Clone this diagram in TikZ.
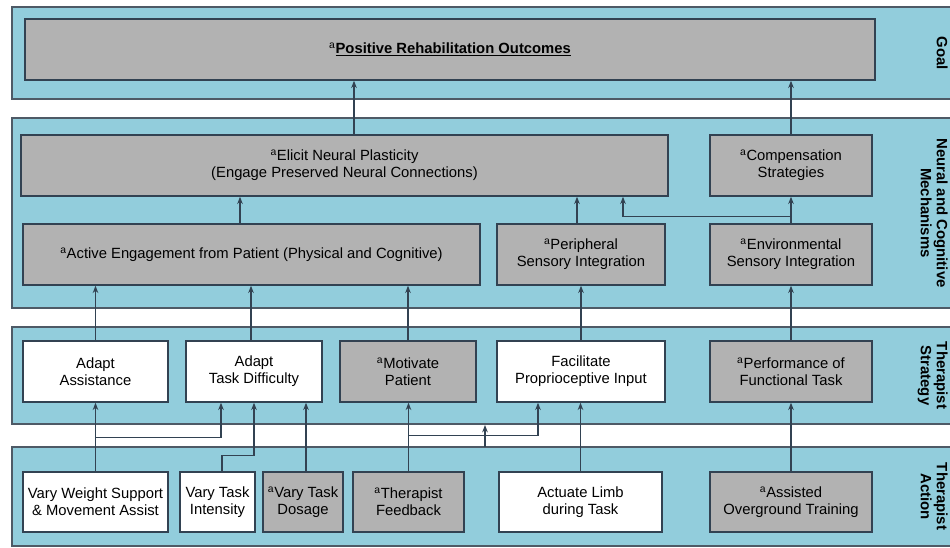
\documentclass[tikz,border=0pt]{standalone}
\usepackage{fontspec}
\setmainfont{Liberation Sans}
\usetikzlibrary{arrows.meta}

\definecolor{bandblue}{RGB}{146,205,220}
\definecolor{boxgray}{RGB}{178,178,178}
\definecolor{edgedark}{RGB}{50,66,82}
\definecolor{bandedge}{RGB}{78,90,102}

\newcommand\boxfont{\fontsize{11.1}{12.75}\selectfont}
\newcommand\sidefont{\fontsize{11.2}{12}\selectfont\bfseries}
\newcommand\ap{\textsuperscript{a}}

\tikzset{
    band/.style={draw=bandedge, line width=1.1pt, fill=bandblue},
    graybox/.style={draw=edgedark, line width=1.1pt, fill=boxgray, align=center, inner sep=0pt, font=\boxfont},
    whitebox/.style={graybox, fill=white},
    wh/.style 2 args={minimum width=#1*0.75pt, minimum height=#2*0.75pt},
    arr/.style={-{Stealth[length=5.5pt,width=4.2pt]}, line width=1pt, draw=edgedark},
    side/.style={rotate=-90, anchor=north, align=center, inner sep=0pt, font=\sidefont},
}

\begin{document}
\begin{tikzpicture}[x=0.75pt, y=-0.75pt]

\path[use as bounding box, fill=white] (0,0) rectangle (950,548);

% layers
\draw[band] (12,7) rectangle (960,99);
\draw[band] (12,118) rectangle (960,308);
\draw[band] (12,327) rectangle (960,424);
\draw[band] (12,447) rectangle (960,546);

\node[side] (lgoal) at (948,53) {Goal};
\node[side] (lneur) at (948,213) {Neural and Cognitive\\Mechanisms};
\node[side] (lstrat) at (948,375.5) {Therapist\\Strategy};
\node[side] (lact) at (948,496.5) {Therapist\\Action};

% goal
\node[graybox, wh={850}{61}] (goal) at (450,49.5) {\ap\underline{\textbf{Positive Rehabilitation Outcomes}}};

% mechanisms
\node[graybox, wh={647}{61}] (elicit) at (344.5,165.5) {\ap Elicit Neural Plasticity\\(Engage Preserved Neural Connections)};
\node[graybox, wh={162}{61}] (comp) at (791,165.5) {\ap Compensation\\Strategies};
\node[graybox, wh={457}{61}] (active) at (251.5,254.5) {\ap Active Engagement from Patient (Physical and Cognitive)};
\node[graybox, wh={168}{61}] (periph) at (581,254.5) {\ap Peripheral\\Sensory Integration};
\node[graybox, wh={162}{61}] (env) at (791,254.5) {\ap Environmental\\Sensory Integration};

% strategy
\node[whitebox, wh={145}{61}] (assist) at (95.5,371.5) {Adapt\\Assistance};
\node[whitebox, wh={136}{61}] (diff) at (254,371.5) {Adapt\\Task Difficulty};
\node[graybox, wh={136}{61}] (motiv) at (408,371.5) {\ap Motivate\\Patient};
\node[whitebox, wh={168}{61}] (facil) at (581,371.5) {Facilitate\\Proprioceptive Input};
\node[graybox, wh={162}{61}] (perf) at (791,371.5) {\ap Performance of\\Functional Task};

% action
\node[whitebox, wh={145}{60}] (weight) at (95.5,502) {Vary Weight Support\\\& Movement Assist};
\node[whitebox, wh={75}{60}] (inten) at (217.5,502) {Vary Task\\Intensity};
\node[graybox, wh={80}{60}] (dosage) at (303,502) {\ap Vary Task\\Dosage};
\node[graybox, wh={111}{60}] (feedb) at (408.5,502) {\ap Therapist\\Feedback};
\node[whitebox, wh={163}{60}] (actuate) at (580.5,502) {Actuate Limb\\during Task};
\node[graybox, wh={162}{60}] (overg) at (791,502) {\ap Assisted\\Overground Training};

\coordinate (stubbot) at (485,447);
\coordinate (stubtop) at (485,425);

% links
\draw[arr] (elicit.north -| 354,0) -- (goal.south -| 354,0);
\draw[arr] (comp.north) -- (goal.south -| comp.north);
\draw[arr] (active.north -| 240,0) -- (elicit.south -| 240,0);
\draw[arr] (periph.north -| 577,0) -- (elicit.south -| 577,0);
\draw[arr] (env.north) -- (comp.south);
\draw[arr] (env.north) -- ++(0,-7) -| (elicit.south -| 623,0);

\draw[arr] (assist.north) -- (active.south -| assist.north);
\draw[arr] (diff.north -| 251,0) -- (active.south -| 251,0);
\draw[arr] (motiv.north) -- (active.south -| motiv.north);
\draw[arr] (facil.north) -- (periph.south);
\draw[arr] (perf.north) -- (env.south);

\draw[arr] (weight.north) -- (assist.south);
\draw[arr] (weight.north) -- ++(0,-34) -| (diff.south -| 221,0);
\draw[arr] (inten.north -| 222,0) -- ++(0,-16) -| (diff.south);
\draw[arr] (dosage.north -| 306,0) -- (diff.south -| 306,0);
\draw[arr] (feedb.north) -- (motiv.south -| feedb.north);
\draw[arr] (feedb.north) -- ++(0,-36) -| (facil.south -| 538,0);
\draw[arr] (stubbot) -- (stubtop);
\draw[arr] (actuate.north) -- (facil.south -| actuate.north);
\draw[arr] (overg.north) -- (perf.south);

\end{tikzpicture}
\end{document}
